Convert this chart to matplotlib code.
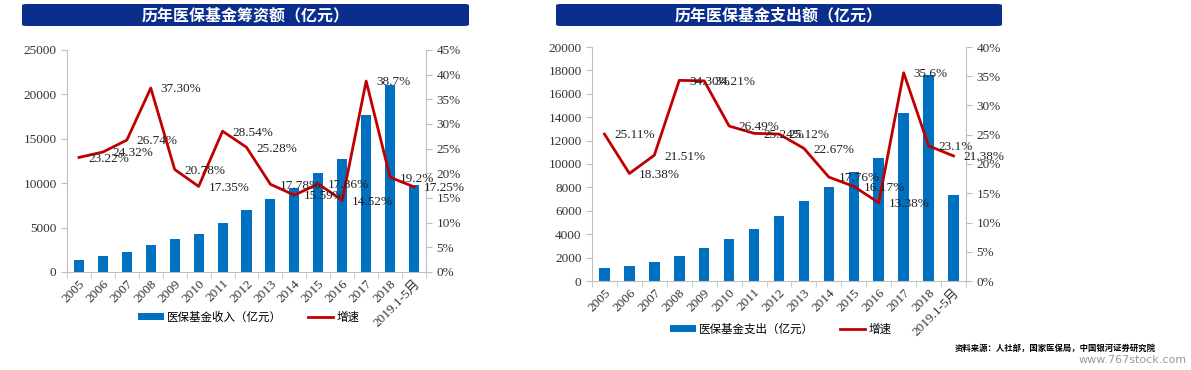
import matplotlib
matplotlib.use("Agg")
import matplotlib.pyplot as plt
import numpy as np
from matplotlib.patches import FancyBboxPatch, Patch
from matplotlib.lines import Line2D
from matplotlib.ticker import FuncFormatter, MultipleLocator

plt.rcParams['font.family'] = ['Liberation Serif', 'Noto Sans CJK SC']

years = ['2005', '2006', '2007', '2008', '2009', '2010', '2011', '2012', '2013',
         '2014', '2015', '2016', '2017', '2018', '2019.1-5月']

income = [1405, 1747, 2214, 3040, 3672, 4309, 5539, 6939, 8248,
          9460, 11150, 12730, 17680, 21060, 9800]
income_growth = [23.22, 24.32, 26.74, 37.30, 20.78, 17.35, 28.54, 25.28, 17.78,
                 15.59, 17.86, 14.52, 38.7, 19.2, 17.25]
income_labels = ['23.22%', '24.32%', '26.74%', '37.30%', '20.78%', '17.35%', '28.54%', '25.28%', '17.78%',
                 '15.59%', '17.86%', '14.52%', '38.7%', '19.2%', '17.25%']

expense = [1079, 1300, 1600, 2100, 2800, 3560, 4440, 5560, 6820,
           8030, 9320, 10510, 14360, 17600, 7350]
expense_growth = [25.11, 18.38, 21.51, 34.30, 34.21, 26.49, 25.24, 25.12, 22.67,
                  17.76, 16.17, 13.38, 35.6, 23.1, 21.38]
expense_labels = ['25.11%', '18.38%', '21.51%', '34.30%', '34.21%', '26.49%', '25.24%', '25.12%', '22.67%',
                  '17.76%', '16.17%', '13.38%', '35.6%', '23.1%', '21.38%']

BLUE = '#0070C0'
RED = '#C00000'
NAVY = '#0B2E8C'
GRAY = '#BFBFBF'
W, H = 1191, 370

fig = plt.figure(figsize=(W / 100, H / 100), dpi=100)


def banner(x0, x1, text):
    box = FancyBboxPatch((x0 / W, 1 - 26 / H), (x1 - x0) / W, 22 / H,
                         boxstyle='round,pad=0,rounding_size=0.004',
                         transform=fig.transFigure, facecolor=NAVY, edgecolor='none')
    fig.patches.append(box)
    fig.text((x0 + x1) / 2 / W, 1 - 15 / H, text, color='white', fontsize=11.5,
             fontweight='bold', ha='center', va='center', family=['Noto Sans CJK SC'])


def combo(rect, values, growth, labels, ymax, ystep, rmax, bar_name, leg_y, leg_x):
    ax = fig.add_axes(rect)
    x = np.arange(len(years))
    ax.bar(x, values, width=0.42, color=BLUE, zorder=2)
    ax.set_xlim(-0.5, len(years) - 0.5)
    ax.set_ylim(0, ymax)
    ax.yaxis.set_major_locator(MultipleLocator(ystep))
    ax.set_xticks(x)
    ax.set_xticklabels(years, rotation=45, ha='right', rotation_mode='anchor', fontsize=9.5)
    ax.set_xticks(np.arange(-0.5, len(years)), minor=True)
    ax.tick_params(axis='x', which='major', length=0, pad=4)
    ax.tick_params(axis='x', which='minor', length=4, color=GRAY)
    ax.tick_params(axis='y', length=4, color=GRAY, labelsize=9.5, colors='#333333')
    for s in ['top', 'right']:
        ax.spines[s].set_visible(False)
    for s in ['left', 'bottom']:
        ax.spines[s].set_color(GRAY)
    ax.tick_params(axis='x', colors='#333333')

    ax2 = ax.twinx()
    ax2.plot(x, growth, color=RED, lw=2, zorder=3)
    ax2.set_ylim(0, rmax)
    ax2.yaxis.set_major_locator(MultipleLocator(5))
    ax2.yaxis.set_major_formatter(FuncFormatter(lambda v, p: '%d%%' % round(v)))
    ax2.tick_params(axis='y', length=4, color=GRAY, labelsize=9.5, colors='#333333')
    for s in ['top', 'left', 'bottom']:
        ax2.spines[s].set_visible(False)
    ax2.spines['right'].set_color(GRAY)
    for xi, g, lab in zip(x, growth, labels):
        ax2.annotate(lab, (xi, g), xytext=(7, -1), textcoords='offset points',
                     ha='left', va='center', fontsize=9.5, color='#222222', zorder=4)

    handles = [Patch(facecolor=BLUE), Line2D([0], [0], color=RED, lw=2)]
    fig.legend(handles, [bar_name, '增速'], loc='center left',
               bbox_to_anchor=(leg_x / W, 1 - leg_y / H), ncol=2, frameon=False,
               handlelength=2.2, handleheight=0.6, columnspacing=2.2,
               handletextpad=0.3, prop={'family': ['Noto Sans CJK SC'], 'size': 8.3})
    return ax


banner(22, 469, '历年医保基金筹资额（亿元）')
banner(556, 1002, '历年医保基金支出额（亿元）')

combo([67 / W, 1 - 272 / H, 359 / W, 222 / H], income, income_growth, income_labels,
      25000, 5000, 45, '医保基金收入（亿元）', 317, 128)
combo([592 / W, 1 - 281 / H, 374 / W, 234 / H], expense, expense_growth, expense_labels,
      20000, 2000, 40, '医保基金支出（亿元）', 329, 660)

fig.text(955 / W, 1 - 348 / H, '资料来源：人社部，国家医保局，中国银河证券研究院',
         fontsize=6, fontweight='bold', ha='left', va='center', family=['Noto Sans CJK SC'])
fig.text(1187 / W, 1 - 360 / H, 'www.767stock.com', fontsize=8, color='#9A9A9A',
         ha='right', va='center', family=['DejaVu Sans'])

fig.savefig('out.png', dpi=100)
